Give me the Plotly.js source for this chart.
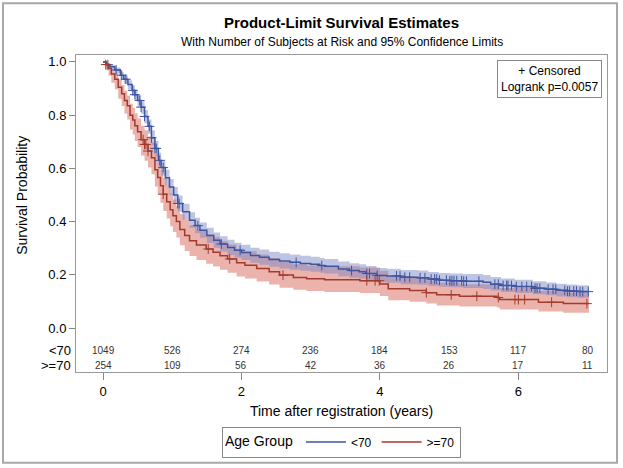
<!DOCTYPE html>
<html>
<head>
<meta charset="utf-8">
<script src="https://cdn.plot.ly/plotly-3.0.1.min.js"></script>
<style>
html,body{margin:0;padding:0;background:#fff;}
#chart{width:623px;height:468px;}
</style>
</head>
<body>
<div id="chart"></div>
<script>
// ---- Data: <70 group ----
const timeLt70 = [0.00,0.05,0.10,0.17,0.25,0.30,0.36,0.42,0.46,0.50,0.55,0.60,0.65,0.70,0.75,0.80,0.84,0.90,0.96,1.02,1.08,1.15,1.25,1.33,1.40,1.50,1.60,1.69,1.80,1.90,2.00,2.13,2.26,2.40,2.55,2.70,2.85,3.00,3.13,3.20,3.40,3.56,3.70,3.80,3.95,4.10,4.30,4.55,4.70,4.85,5.01,5.20,5.49,5.60,5.75,5.95,6.21,6.40,6.55,6.70,6.85,7.02];
const survLt70 = [1.000,0.990,0.982,0.970,0.950,0.935,0.915,0.893,0.877,0.855,0.830,0.795,0.758,0.715,0.675,0.630,0.603,0.565,0.530,0.500,0.468,0.437,0.405,0.385,0.368,0.348,0.330,0.316,0.303,0.292,0.284,0.273,0.266,0.258,0.252,0.247,0.243,0.240,0.235,0.232,0.222,0.216,0.212,0.205,0.198,0.196,0.191,0.189,0.184,0.180,0.178,0.176,0.172,0.165,0.160,0.156,0.150,0.146,0.142,0.139,0.137,0.137];
const lowerLt70 = [1.000,0.983,0.973,0.958,0.935,0.918,0.896,0.872,0.855,0.832,0.805,0.769,0.730,0.686,0.645,0.600,0.573,0.535,0.500,0.470,0.438,0.407,0.376,0.356,0.339,0.320,0.302,0.288,0.275,0.264,0.256,0.245,0.238,0.230,0.224,0.219,0.215,0.212,0.208,0.205,0.195,0.189,0.185,0.179,0.172,0.170,0.165,0.163,0.158,0.155,0.153,0.151,0.147,0.141,0.136,0.132,0.127,0.123,0.119,0.116,0.114,0.114];
const upperLt70 = [1.000,0.995,0.989,0.979,0.962,0.949,0.931,0.911,0.896,0.876,0.852,0.819,0.784,0.742,0.703,0.659,0.632,0.595,0.560,0.530,0.498,0.467,0.435,0.415,0.397,0.377,0.359,0.345,0.332,0.321,0.313,0.302,0.295,0.287,0.281,0.276,0.272,0.268,0.263,0.260,0.250,0.244,0.240,0.233,0.226,0.223,0.218,0.216,0.211,0.207,0.205,0.203,0.199,0.192,0.186,0.182,0.176,0.171,0.167,0.164,0.161,0.161];
const censorLt70 = [0.07,0.19,0.27,0.33,0.43,0.46,0.53,0.55,0.60,0.67,0.70,0.75,0.77,0.82,0.87,1.08,1.10,1.37,1.71,1.98,2.79,3.16,3.59,3.81,3.85,3.96,4.24,4.29,4.36,4.43,4.58,4.65,4.74,4.79,4.82,4.86,4.96,5.01,5.04,5.07,5.11,5.18,5.21,5.25,5.43,5.66,5.71,5.78,5.83,5.85,5.90,5.97,6.05,6.12,6.19,6.24,6.27,6.31,6.43,6.50,6.54,6.67,6.71,6.74,6.80,6.84,6.89,6.93,7.01];

// ---- Data: >=70 group ----
const timeGe70 = [0.00,0.04,0.08,0.12,0.17,0.22,0.27,0.31,0.35,0.39,0.43,0.46,0.50,0.55,0.60,0.65,0.70,0.75,0.79,0.83,0.87,0.92,0.97,1.01,1.06,1.11,1.18,1.25,1.35,1.49,1.59,1.69,1.80,1.93,2.05,2.22,2.40,2.55,2.75,2.94,3.20,3.71,4.00,4.12,4.43,4.67,4.82,5.15,5.69,5.73,6.29,6.65,7.02];
const survGe70 = [1.000,0.990,0.975,0.955,0.935,0.905,0.880,0.855,0.835,0.800,0.782,0.760,0.738,0.708,0.690,0.665,0.640,0.595,0.566,0.535,0.503,0.475,0.445,0.422,0.400,0.370,0.348,0.328,0.312,0.297,0.285,0.272,0.260,0.245,0.236,0.224,0.212,0.199,0.190,0.185,0.182,0.178,0.166,0.148,0.141,0.133,0.125,0.120,0.115,0.107,0.097,0.092,0.092];
const lowerGe70 = [1.000,0.969,0.948,0.922,0.897,0.862,0.834,0.806,0.784,0.746,0.727,0.703,0.680,0.648,0.629,0.603,0.578,0.532,0.502,0.471,0.440,0.412,0.383,0.361,0.340,0.311,0.290,0.271,0.256,0.242,0.231,0.219,0.208,0.194,0.186,0.175,0.164,0.152,0.144,0.139,0.136,0.132,0.121,0.105,0.099,0.092,0.085,0.081,0.077,0.070,0.062,0.058,0.058];
const upperGe70 = [1.000,0.997,0.988,0.974,0.959,0.935,0.913,0.892,0.874,0.843,0.827,0.807,0.787,0.760,0.743,0.720,0.697,0.654,0.626,0.596,0.564,0.536,0.506,0.483,0.460,0.430,0.407,0.386,0.369,0.353,0.341,0.327,0.314,0.298,0.289,0.276,0.263,0.249,0.240,0.235,0.232,0.228,0.215,0.196,0.189,0.180,0.171,0.165,0.160,0.151,0.140,0.134,0.134];
const censorGe70 = [0.04,0.58,0.60,0.62,0.65,0.87,1.52,1.83,2.60,3.81,3.93,3.99,4.67,5.03,5.40,5.71,5.95,6.00,6.09,6.48,6.99];

// ---- Number at risk ----
const atRiskTimes = [0,1,2,3,4,5,6,7];
const atRiskLt70 = [1049,526,274,236,184,153,117,80];
const atRiskGe70 = [254,109,56,42,36,26,17,11];
const groupLabels = ['<70','>=70'];
const xTicks = [0,2,4,6];
const yTicks = [0,0.2,0.4,0.6,0.8,1.0];

// ---- Styles ----
const blue = '#3F55A0';
const red = '#A23A2E';
const blueBand = 'rgba(120,134,196,0.48)';
const redBand = 'rgba(216,104,90,0.5)';

function stepAt(times, surv, t){
  let v = surv[0];
  for(let i=0;i<times.length;i++){ if(times[i] <= t) v = surv[i]; else break; }
  return v;
}

const traces = [];
function band(times, lo, hi, color){
  traces.push({x: times, y: lo, type:'scatter', mode:'lines', line:{width:0, shape:'hv'}, hoverinfo:'skip', showlegend:false});
  traces.push({x: times, y: hi, type:'scatter', mode:'lines', line:{width:0, shape:'hv'}, fill:'tonexty', fillcolor: color, hoverinfo:'skip', showlegend:false});
}
band(timeGe70, lowerGe70, upperGe70, redBand);
band(timeLt70, lowerLt70, upperLt70, blueBand);

traces.push({x: timeLt70, y: survLt70, type:'scatter', mode:'lines', name: groupLabels[0], line:{color: blue, width:1.5, shape:'hv'}});
traces.push({x: timeGe70, y: survGe70, type:'scatter', mode:'lines', name: groupLabels[1], line:{color: red, width:1.5, shape:'hv'}});

traces.push({x: censorLt70, y: censorLt70.map(t=>stepAt(timeLt70, survLt70, t)), type:'scatter', mode:'markers',
  marker:{symbol:'cross-thin-open', size:7, color: blue, line:{color: blue, width:1}}, showlegend:false, hoverinfo:'skip'});
traces.push({x: censorGe70, y: censorGe70.map(t=>stepAt(timeGe70, survGe70, t)), type:'scatter', mode:'markers',
  marker:{symbol:'cross-thin-open', size:7, color: red, line:{color: red, width:1}}, showlegend:false, hoverinfo:'skip'});

const FONT = 'Liberation Sans, Arial, sans-serif';
const plotTop = 55, plotBottom = 373;
const ph = plotBottom - plotTop;
function py(pix){ return (plotBottom - pix)/ph; }

const annotations = [];
// at-risk table
const rowY = [-0.084, -0.142];
[atRiskLt70, atRiskGe70].forEach((row, r)=>{
  row.forEach((n,i)=>{
    annotations.push({x: atRiskTimes[i], y: rowY[r], xref:'x', yref:'y', text: String(n), showarrow:false,
      font:{family:FONT, size:10, color:'#333'}, xanchor:'center', yanchor:'middle'});
  });
  annotations.push({x: -0.006, y: rowY[r], xref:'paper', yref:'y', text: groupLabels[r], showarrow:false,
    font:{family:FONT, size:13, color:'#000'}, xanchor:'right', yanchor:'middle'});
});
// subtitle
annotations.push({x:0.5, y:py(42), xref:'paper', yref:'paper', text:'With Number of Subjects at Risk and 95% Confidence Limits',
  showarrow:false, font:{family:FONT, size:12, color:'#000'}, xanchor:'center', yanchor:'middle'});
// y title
annotations.push({x:-0.102, y:0.5, xref:'paper', yref:'y', text:'Survival Probability', textangle:-90, showarrow:false,
  font:{family:FONT, size:14, color:'#000'}, xanchor:'center', yanchor:'middle'});
// inset
annotations.push({x:0.991, y:0.984, xref:'paper', yref:'paper', text:'+ Censored<br>Logrank p=0.0057', showarrow:false,
  align:'center', xanchor:'right', yanchor:'top', bordercolor:'#888', borderwidth:1, borderpad:3, bgcolor:'#fff',
  font:{family:FONT, size:12, color:'#000'}});

const layout = {
  width:623, height:468,
  margin:{l:76, r:16, t:55, b:95},
  paper_bgcolor:'#fff', plot_bgcolor:'#fff',
  font:{family:FONT, color:'#000'},
  title:{text:'<b>Product-Limit Survival Estimates</b>', font:{family:FONT, size:15, color:'#000'},
    x:0.5, xref:'paper', xanchor:'center', y:1-23/468, yref:'container', yanchor:'middle'},
  xaxis:{range:[-0.39,7.28], tickvals:xTicks, ticktext:xTicks.map(String), ticks:'outside', ticklen:7, tickcolor:'#888',
    showline:true, linecolor:'#999', linewidth:1, mirror:true, showgrid:false, zeroline:false,
    tickfont:{family:FONT, size:13}, title:{text:'Time after registration (years)', font:{family:FONT, size:14}, standoff:8}},
  yaxis:{range:[-0.165,1.026], tickvals:yTicks, ticktext:yTicks.map(v=>v.toFixed(1)), ticks:'outside', ticklen:6, tickcolor:'#888',
    showline:true, linecolor:'#999', linewidth:1, mirror:true, showgrid:false, zeroline:false,
    tickfont:{family:FONT, size:13}},
  showlegend:true,
  legend:{orientation:'h', traceorder:'normal', x:0.5, xanchor:'center', y:py(442), yanchor:'middle', xref:'paper', yref:'paper',
    bordercolor:'#888', borderwidth:1, bgcolor:'#fff',
    title:{text:'Age Group', font:{family:FONT, size:14}, side:'left'},
    font:{family:FONT, size:12}, itemwidth:40},
  annotations: annotations,
  shapes:[{type:'rect', xref:'paper', yref:'paper', x0:(3-76)/531, x1:(617-76)/531, y0:py(464), y1:py(3),
    line:{color:'#a8a8a8', width:2}, fillcolor:'rgba(0,0,0,0)', layer:'below'}]
};

Plotly.newPlot('chart', traces, layout, {displayModeBar:false, staticPlot:true});
</script>
</body>
</html>
